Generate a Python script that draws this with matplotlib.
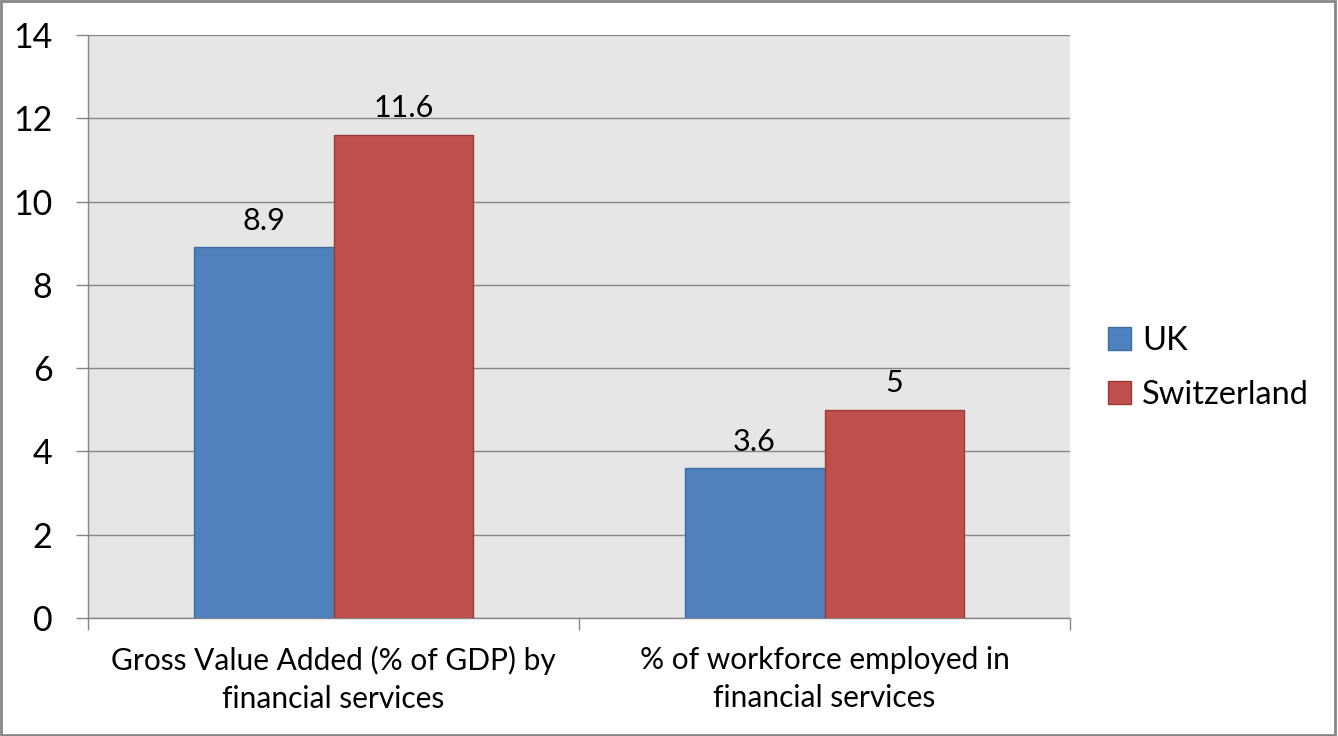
import numpy as np
import matplotlib
matplotlib.use("Agg")
import matplotlib.pyplot as plt
from matplotlib.patches import Rectangle

plt.rcParams['font.family'] = ['Lato', 'DejaVu Sans']

categories = ["Gross Value Added (% of GDP) by\nfinancial services",
              "% of workforce employed in\nfinancial services"]
series = ["UK", "Switzerland"]
uk_vals = [8.9, 3.6]
ch_vals = [11.6, 5]
yticks = [0, 2, 4, 6, 8, 10, 12, 14]

colors = ["#4F81BD", "#C0504D"]
edges = ["#3D6CA3", "#9B3B38"]
grid_col = "#868686"

fig = plt.figure(figsize=(13.38, 7.36), dpi=100)
ax = fig.add_axes([88 / 1338, 1 - 618 / 736, 982 / 1338, 583 / 736])
ax.set_facecolor("#E6E6E6")

x = np.arange(len(categories))
w = 0.285
for i, (vals, name) in enumerate(zip([uk_vals, ch_vals], series)):
    pos = x + (i - 0.5) * w
    bars = ax.bar(pos, vals, width=w, color=colors[i], edgecolor=edges[i],
                  linewidth=1, label=name, zorder=3)
    for b, v in zip(bars, vals):
        ax.text(b.get_x() + b.get_width() / 2, v + 0.3, f"{v:g}",
                ha="center", va="bottom", fontsize=22, color="black")

ax.set_xlim(-0.5, 1.5)
ax.set_ylim(0, 14)
ax.set_yticks(yticks)
ax.set_yticklabels([str(t) for t in yticks], fontsize=24.5)
ax.yaxis.grid(True, color=grid_col, linewidth=1)
ax.set_axisbelow(True)

ax.set_xticks([-0.5, 0.5, 1.5])
ax.set_xticklabels([])
ax.set_xticks(x, minor=True)
ax.set_xticklabels(categories, minor=True, fontsize=21.5, linespacing=1.45)
ax.tick_params(axis="x", which="minor", length=0, pad=20)
ax.tick_params(axis="x", which="major", length=8.6, color=grid_col, width=1)
ax.tick_params(axis="y", length=8.6, color=grid_col, width=1, pad=17)

for s in ["top", "right"]:
    ax.spines[s].set_visible(False)
for s in ["left", "bottom"]:
    ax.spines[s].set_color(grid_col)
    ax.spines[s].set_linewidth(1)

leg = fig.legend(loc="center left", bbox_to_anchor=(1108 / 1338, 1 - 368 / 736),
                 frameon=False, fontsize=23.5, handlelength=0.7, handleheight=0.7,
                 handletextpad=0.35, labelspacing=0.75, borderpad=0, borderaxespad=0)

fig.patches.append(Rectangle((0.001, 0.001), 0.997, 0.997, transform=fig.transFigure,
                             fill=False, edgecolor=grid_col, linewidth=2))

fig.savefig("out.png", dpi=100)
